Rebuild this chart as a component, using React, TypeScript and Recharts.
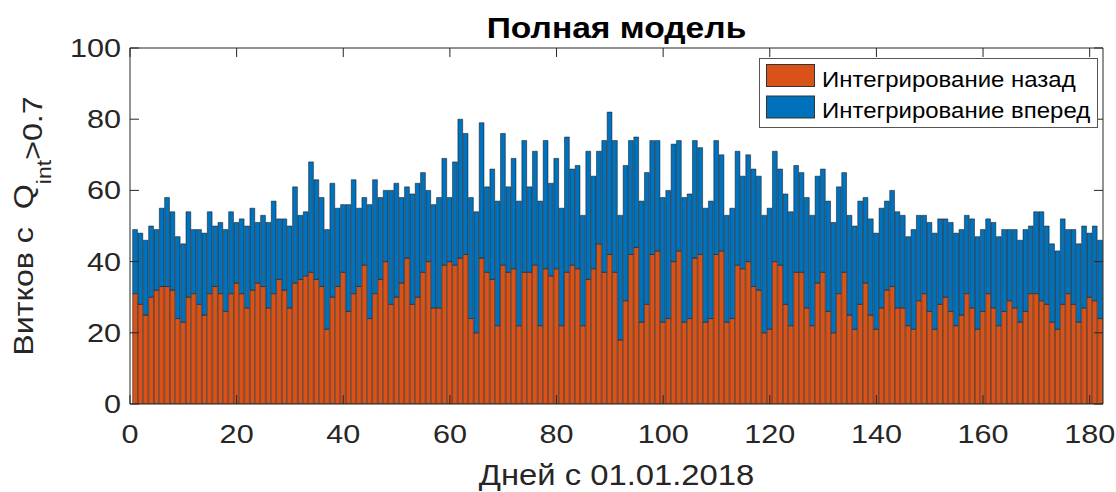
import { BarChart, Bar, XAxis, YAxis, Legend, ReferenceLine } from "recharts";

// orbits per day, integration backward (orange, bottom) and forward (blue, stacked)
const backward = [
  31, 28, 25, 30, 32, 33, 33, 32, 24, 23, 30, 31, 28, 25, 31, 33, 31, 26, 31, 34, 31, 27, 32, 34, 33, 27,
  31, 35, 32, 27, 34, 35, 36, 37, 35, 33, 21, 30, 33, 37, 26, 31, 33, 39, 24, 31, 35, 40, 28, 30, 34, 41,
  28, 30, 37, 40, 27, 27, 39, 40, 39, 41, 42, 24, 20, 41, 37, 35, 22, 39, 37, 38, 22, 37, 37, 39, 22, 38, 36,
  38, 22, 37, 39, 38, 22, 35, 38, 45, 37, 42, 37, 18, 29, 42, 44, 23, 28, 42, 43, 23, 24, 40, 43, 23, 24,
  41, 42, 23, 24, 42, 43, 23, 24, 39, 38, 40, 33, 32, 20, 21, 40, 39, 28, 22, 37, 37, 27, 22, 34, 37, 26,
  20, 31, 37, 25, 21, 28, 34, 25, 21, 27, 32, 33, 27, 27, 22, 21, 29, 31, 26, 21, 28, 30, 26, 22, 25, 31,
  27, 21, 26, 31, 27, 22, 26, 29, 27, 23, 26, 31, 31, 29, 28, 23, 21, 28, 31, 28, 23, 27, 30, 29, 24,
];

const forward = [
  18, 20, 21, 20, 17, 22, 25, 22, 23, 22, 24, 18, 21, 23, 23, 17, 20, 23, 23, 17, 21, 23, 23, 17, 20, 24,
  26, 17, 20, 23, 27, 18, 18, 31, 28, 25, 28, 32, 22, 19, 30, 32, 22, 19, 32, 32, 23, 20, 32, 32, 24, 20,
  31, 32, 28, 20, 29, 31, 30, 18, 29, 39, 34, 34, 34, 38, 24, 31, 35, 37, 24, 31, 35, 37, 24, 32, 35, 36, 26,
  31, 33, 38, 27, 29, 31, 36, 26, 26, 37, 40, 37, 35, 38, 32, 31, 34, 37, 32, 31, 35, 36, 33, 31, 35, 35,
  33, 30, 32, 33, 32, 27, 30, 31, 32, 26, 30, 33, 32, 33, 34, 31, 27, 31, 32, 30, 28, 31, 31, 30, 29, 31,
  31, 30, 28, 28, 29, 29, 24, 27, 27, 28, 25, 27, 27, 26, 25, 28, 24, 22, 25, 27, 24, 22, 25, 26, 24, 22,
  25, 26, 23, 21, 24, 25, 23, 20, 22, 23, 23, 19, 23, 25, 22, 22, 22, 24, 18, 21, 22, 23, 18, 21, 22,
];

const xTicks = [0, 20, 40, 60, 80, 100, 120, 140, 160, 180];
const yTicks = [0, 20, 40, 60, 80, 100];
const seriesNames = ["Интегрирование назад", "Интегрирование вперед"];
const seriesColors = ["#D95319", "#0072BD"];

const data = backward.map((b, i) => ({ day: i + 1, back: b, fwd: forward[i] }));

const FONT = "'Liberation Sans', Arial, Helvetica, sans-serif";
const INK = "#262626";
const TICK_LEN = 9;
const WIDE = 1.2; // glyphs in the original are wider than Arial
const W = 1116;
const H = 492;
const M = { top: 48, right: 13, bottom: 48, left: 70 };
const X_AXIS_H = 40;
const Y_AXIS_W = 60;
const PLOT_W = W - M.left - M.right - Y_AXIS_W;
const PLOT_H = H - M.top - M.bottom - X_AXIS_H;

// bottom tick: label + inward mark, plus the matching mark on the top edge (box on)
const BottomTick = ({ x, y, payload }: any) => (
  <g>
    <line x1={x} y1={y} x2={x} y2={y - TICK_LEN} stroke={INK} />
    <line x1={x} y1={y - PLOT_H} x2={x} y2={y - PLOT_H + TICK_LEN} stroke={INK} />
    <text
      transform={`translate(${x},${y + 38.5}) scale(${WIDE},1)`}
      textAnchor="middle"
      fontSize={25.5}
      fontFamily={FONT}
      fill={INK}
    >
      {payload.value}
    </text>
  </g>
);

const LeftTick = ({ x, y, payload }: any) => (
  <g>
    <line x1={x} y1={y} x2={x + TICK_LEN} y2={y} stroke={INK} />
    <line x1={x + PLOT_W} y1={y} x2={x + PLOT_W - TICK_LEN} y2={y} stroke={INK} />
    <text
      transform={`translate(${x - 9},${y + 9}) scale(${WIDE},1)`}
      textAnchor="end"
      fontSize={25.5}
      fontFamily={FONT}
      fill={INK}
    >
      {payload.value}
    </text>
  </g>
);

const XLabel = ({ viewBox }: any) => (
  <text
    transform={`translate(${viewBox.x + viewBox.width / 2},${viewBox.y + 81}) scale(1.13,1)`}
    textAnchor="middle"
    fontSize={29}
    fontFamily={FONT}
    fill={INK}
  >
    Дней с 01.01.2018
  </text>
);

// the y label and the title both hang off the left axis box
const YLabel = ({ viewBox }: any) => (
  <g>
    <text
      transform={`translate(${viewBox.x - 37},${viewBox.y + viewBox.height / 2}) rotate(-90) scale(1.15,1)`}
      textAnchor="middle"
      fontSize={28}
      fontFamily={FONT}
      fill={INK}
    >
      {"Витков с\u00A0\u00A0Q"}
      <tspan fontSize={20} dy={18}>int</tspan>
      <tspan dy={-9}>&gt;0.7</tspan>
    </text>
    <text
      transform={`translate(${viewBox.x + viewBox.width + PLOT_W / 2},${viewBox.y - 10}) scale(1.12,1)`}
      textAnchor="middle"
      fontSize={30}
      fontWeight="bold"
      fontFamily={FONT}
      fill="#000"
    >
      Полная модель
    </text>
  </g>
);

const LegendBox = () => (
  <svg width={340} height={71} style={{ display: "block" }}>
    <rect x={0.5} y={0.5} width={338} height={69} fill="#fff" stroke="#555" />
    {seriesNames.map((name, i) => (
      <g key={name}>
        <rect x={7.5} y={6.5 + i * 31.5} width={48} height={22} fill={seriesColors[i]} stroke="#333" />
        <text
          transform={`translate(63,${28.5 + i * 31}) scale(1.09,1)`}
          fontSize={22}
          fontFamily={FONT}
          fill="#000"
        >
          {name}
        </text>
      </g>
    ))}
  </svg>
);

export default function App() {
  return (
    <div style={{ position: "absolute", left: 0, top: 0, background: "#fff" }}>
      <BarChart
        width={W}
        height={H}
        data={data}
        margin={M}
        barCategoryGap={0}
        barGap={0}
      >
        <XAxis
          dataKey="day"
          type="number"
          domain={[0, 182.5]}
          allowDataOverflow
          ticks={xTicks}
          interval={0}
          height={X_AXIS_H}
          tickSize={0}
          tickMargin={0}
          tickLine={false}
          axisLine={{ stroke: INK }}
          tick={<BottomTick />}
          label={{ content: <XLabel /> }}
        />
        <YAxis
          type="number"
          domain={[0, 100]}
          allowDataOverflow
          ticks={yTicks}
          interval={0}
          width={Y_AXIS_W}
          tickSize={0}
          tickMargin={0}
          tickLine={false}
          axisLine={{ stroke: INK }}
          tick={<LeftTick />}
          label={{ content: <YLabel /> }}
        />
        <Legend
          layout="vertical"
          align="center"
          verticalAlign="middle"
          content={<LegendBox />}
          wrapperStyle={{ left: 759, top: 58, width: 340, height: 71 }}
        />
        <Bar
          dataKey="back"
          name={seriesNames[0]}
          stackId="a"
          fill={seriesColors[0]}
          stroke="#111"
          strokeWidth={0.5}
          barSize={PLOT_W / 182.5}
          isAnimationActive={false}
        />
        <Bar
          dataKey="fwd"
          name={seriesNames[1]}
          stackId="a"
          fill={seriesColors[1]}
          stroke="#111"
          strokeWidth={0.5}
          barSize={PLOT_W / 182.5}
          isAnimationActive={false}
        />
        <ReferenceLine y={100} stroke={INK} ifOverflow="visible" />
        <ReferenceLine x={182.5} stroke={INK} ifOverflow="visible" />
      </BarChart>
    </div>
  );
}
